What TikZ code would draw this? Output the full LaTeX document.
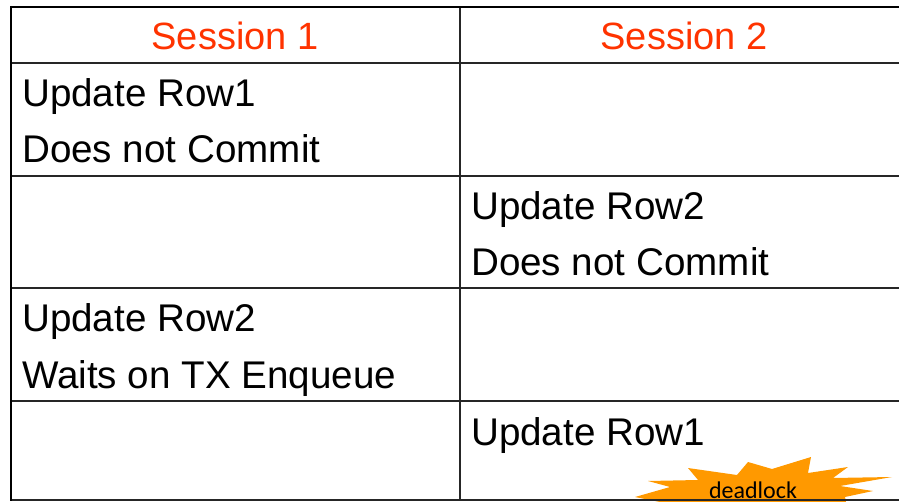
\documentclass[tikz,border=0pt]{standalone}
\usepackage{fontspec}
\setmainfont{Liberation Sans}
\newfontfamily\calibri{Carlito}
\definecolor{sessred}{RGB}{255,51,0}
\definecolor{burst}{RGB}{255,153,0}

\begin{document}
\begin{tikzpicture}[x=1pt,y=-1pt]
    \tikzstyle{every node}=[font=\fontsize{38.6}{44}\selectfont, inner sep=0pt]
    \tikzstyle{head}=[anchor=base, text=sessred, font=\fontsize{38}{44}\selectfont]
    \tikzstyle{cell}=[anchor=base west]
    \tikzstyle{rule}=[line width=1.4pt, black!85]
    \useasboundingbox (0,0) rectangle (899,502);
    \begin{scope}
    \clip (0,0) rectangle (899,502);
    % the burst sits under the bottom rule
    \fill [burst] (635,497) -- (670,487) -- (648,481) -- (698,480) -- (688,468) -- (737,475) -- (748,462) -- (772,469) -- (811,457) -- (808,473) -- (848,467) -- (833,478) -- (892,477) -- (840,486) -- (873,491) -- (845,497) -- (850,520) -- (650,520) -- (660,502) -- cycle;
    \node [font=\calibri\fontsize{24}{28}\selectfont, anchor=base] (dl) at (753,498) {deadlock};
    % table
    \draw [rule] (11,63) -- (905,63);
    \draw [rule] (11,176) -- (905,176);
    \draw [rule] (11,288) -- (905,288);
    \draw [rule] (11,401) -- (905,401);
    \draw [rule] (11,500) -- (905,500);
    \draw [rule] (460,7) -- (460,500);
    \draw [line width=2.4pt] (11,7) -- (905,7);
    \draw [line width=2pt] (11,6) -- (11,501);
    \end{scope}
    \node [head] (s1) at (235,50) {Session 1};
    \node [head] (s2) at (684,50) {Session 2};
    \node [cell] (a1) at (22,107) {Update Row1};
    \node [cell] (a2) at (22,163) {Does not Commit};
    \node [cell] (b1) at (471,220) {Update Row2};
    \node [cell] (b2) at (471,276) {Does not Commit};
    \node [cell] (c1) at (22,332) {Update Row2};
    \node [cell] (c2) at (22,388) {Waits on TX Enqueue};
    \node [cell] (d1) at (471,445) {Update Row1};
\end{tikzpicture}
\end{document}
